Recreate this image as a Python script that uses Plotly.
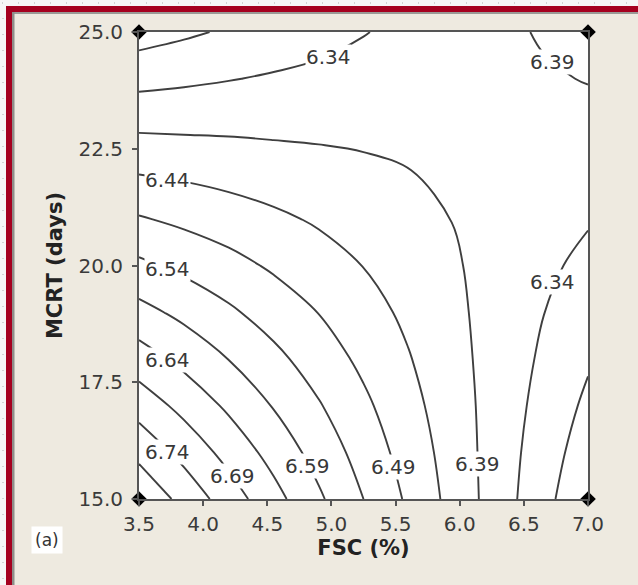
import plotly.graph_objects as go

# ---- data ----
fsc = [3.5, 3.85, 4.2, 4.55, 4.9, 5.25, 5.6, 5.95, 6.3, 6.65, 7.0]
mcrt = [15, 16, 17, 18, 19, 20, 21, 22, 23, 24, 25]
response = [
    [6.832, 6.774, 6.715, 6.657, 6.598, 6.540, 6.482, 6.423, 6.365, 6.306, 6.248],
    [6.776, 6.724, 6.673, 6.622, 6.571, 6.520, 6.469, 6.418, 6.366, 6.315, 6.264],
    [6.719, 6.675, 6.631, 6.587, 6.544, 6.500, 6.456, 6.412, 6.368, 6.324, 6.280],
    [6.663, 6.626, 6.589, 6.553, 6.516, 6.479, 6.443, 6.406, 6.369, 6.333, 6.296],
    [6.606, 6.577, 6.548, 6.518, 6.489, 6.459, 6.430, 6.400, 6.371, 6.341, 6.312],
    [6.550, 6.528, 6.506, 6.483, 6.461, 6.439, 6.417, 6.395, 6.372, 6.350, 6.328],
    [6.494, 6.479, 6.464, 6.449, 6.434, 6.419, 6.404, 6.389, 6.374, 6.359, 6.344],
    [6.437, 6.430, 6.422, 6.414, 6.406, 6.399, 6.391, 6.383, 6.375, 6.368, 6.360],
    [6.381, 6.380, 6.380, 6.379, 6.379, 6.378, 6.378, 6.377, 6.377, 6.377, 6.376],
    [6.324, 6.331, 6.338, 6.345, 6.351, 6.358, 6.365, 6.372, 6.379, 6.385, 6.392],
    [6.268, 6.282, 6.296, 6.310, 6.324, 6.338, 6.352, 6.366, 6.380, 6.394, 6.408],
]
design_x = [3.5, 3.5, 7.0, 7.0]
design_y = [15.0, 25.0, 15.0, 25.0]
x_ticks = [3.5, 4.0, 4.5, 5.0, 5.5, 6.0, 6.5, 7.0]
y_ticks = [15.0, 17.5, 20.0, 22.5, 25.0]
label_values = [6.34, 6.39, 6.44, 6.54, 6.64, 6.74, 6.69, 6.59, 6.49, 6.39, 6.34]

# ---- label placement (data coords) ----
label_x = [4.98, 6.727, 3.726, 3.726, 3.726, 3.726, 4.225, 4.817, 5.48, 6.135, 6.727]
label_y = [24.465, 24.358, 21.831, 19.925, 17.976, 16.006, 15.493, 15.707, 15.685, 15.749, 19.647]

W, H = 638, 585
ML, MR, MT, MB = 139, 50, 32, 86
PW, PH = W - ML - MR, H - MT - MB


def px(p):
    return (p - ML) / PW


def py(p):
    return (H - MB - p) / PH


LINE = "#3f3f3f"
FONT = "DejaVu Sans"

fig = go.Figure()
fig.add_trace(go.Contour(
    x=fsc, y=mcrt, z=response,
    autocontour=False,
    contours=dict(start=6.29, end=6.79, size=0.05, coloring="lines", showlabels=False),
    colorscale=[[0, LINE], [1, LINE]],
    showscale=False,
    line=dict(width=1.9, smoothing=1.0),
    hoverinfo="skip",
))
fig.add_trace(go.Scatter(
    x=design_x, y=design_y, mode="markers",
    marker=dict(symbol="diamond", size=12, color="black"),
    cliponaxis=False, hoverinfo="skip", showlegend=False,
))

for v, lx, ly in zip(label_values, label_x, label_y):
    fig.add_annotation(x=lx, y=ly, text=f"{v:.2f}", showarrow=False,
                       font=dict(family=FONT, size=20, color="#383838"),
                       bgcolor="white", borderpad=0, xanchor="center", yanchor="middle")

fig.add_annotation(xref="paper", yref="paper", x=px(47), y=py(540), text="(a)",
                   showarrow=False, font=dict(family=FONT, size=17, color="#333333"),
                   bgcolor="white", borderpad=3, xanchor="center", yanchor="middle")

RED = "#A5001F"
shapes = [
    dict(type="rect", xref="paper", yref="paper", x0=px(0), x1=px(W), y0=py(0), y1=py(6),
         fillcolor="#F6F6F6", line=dict(width=0), layer="above"),
    dict(type="rect", xref="paper", yref="paper", x0=px(0), x1=px(6), y0=py(0), y1=py(H),
         fillcolor="#F6F6F6", line=dict(width=0), layer="above"),
    dict(type="line", xref="paper", yref="paper", x0=px(2), x1=px(W), y0=py(3), y1=py(3),
         line=dict(color="#C8C8C8", width=1.5, dash="1px,15px"), layer="above"),
    dict(type="line", xref="paper", yref="paper", x0=px(3), x1=px(3), y0=py(18), y1=py(H),
         line=dict(color="#C8C8C8", width=1.5, dash="1px,15px"), layer="above"),
    dict(type="rect", xref="paper", yref="paper", x0=px(6), x1=px(W), y0=py(6), y1=py(12),
         fillcolor=RED, line=dict(width=0), layer="above"),
    dict(type="rect", xref="paper", yref="paper", x0=px(6), x1=px(12), y0=py(6), y1=py(H),
         fillcolor=RED, line=dict(width=0), layer="above"),
    dict(type="rect", xref="paper", yref="paper", x0=px(12), x1=px(W), y0=py(12), y1=py(14),
         fillcolor="#9A9A96", line=dict(width=0), layer="above"),
    dict(type="rect", xref="paper", yref="paper", x0=px(12), x1=px(14.5), y0=py(12), y1=py(H),
         fillcolor="#8E8E8A", line=dict(width=0), layer="above"),
]

fig.update_layout(
    width=W, height=H,
    margin=dict(l=ML, r=MR, t=MT, b=MB, pad=0),
    paper_bgcolor="#EEEAE0", plot_bgcolor="white",
    showlegend=False,
    shapes=shapes,
    font=dict(family=FONT, color="#3a3a3a"),
    xaxis=dict(range=[3.5, 7.0], tickvals=x_ticks, ticktext=[f"{t:.1f}" for t in x_ticks],
               showgrid=False, zeroline=False, showline=True, linecolor="#555555", linewidth=2,
               mirror=True, ticks="outside", ticklen=5, tickwidth=2, tickcolor="#555555",
               ticklabelstandoff=1,
               tickfont=dict(family=FONT, size=20, color="#3a3a3a"),
               title=dict(text="<b>FSC (%)</b>", font=dict(family=FONT, size=21, color="#222222"),
                          standoff=4)),
    yaxis=dict(range=[15, 25], tickvals=y_ticks, ticktext=[f"{t:.1f}" for t in y_ticks],
               showgrid=False, zeroline=False, showline=True, linecolor="#555555", linewidth=2,
               mirror=True, ticks="outside", ticklen=5, tickwidth=2, tickcolor="#555555",
               ticklabelstandoff=5,
               tickfont=dict(family=FONT, size=20, color="#3a3a3a"),
               title=dict(text="<b>MCRT (days)</b>", font=dict(family=FONT, size=21, color="#222222"),
                          standoff=10)),
)

fig.write_html("out.html")
